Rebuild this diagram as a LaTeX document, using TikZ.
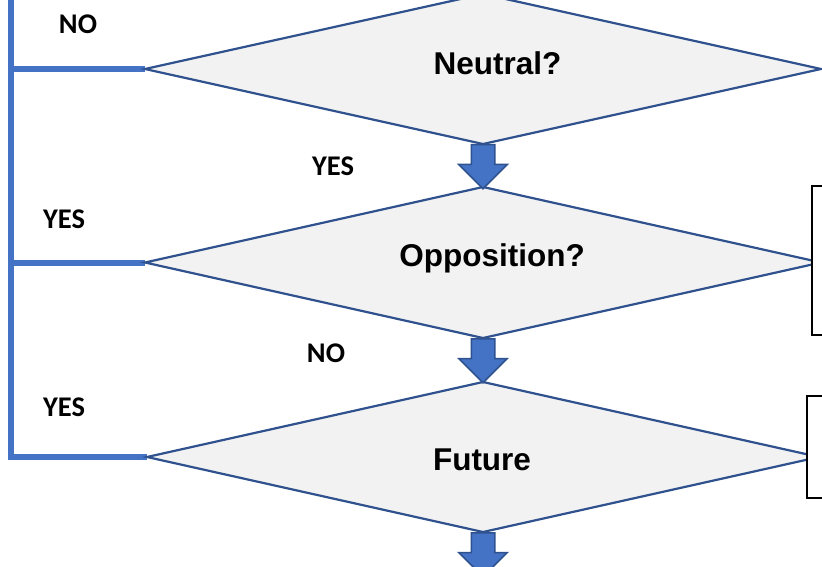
\documentclass[tikz,border=0pt]{standalone}
\usepackage{fontspec}
\setmainfont{Liberation Sans}
\newfontfamily\answerfont{Carlito}
\usetikzlibrary{shapes.geometric, shapes.arrows, backgrounds}
\definecolor{edgeblue}{HTML}{2F528F}
\definecolor{loopblue}{HTML}{4472C4}
\definecolor{shapegray}{HTML}{F2F2F2}

\begin{document}
\begin{tikzpicture}[x=1pt, y=-1pt,
    decision/.style = {diamond, draw=edgeblue, fill=shapegray, line width=2.2pt, inner sep=0pt, outer sep=0pt},
    question/.style = {anchor=base, font=\fontsize{31.5}{36}\selectfont\bfseries},
    answer/.style = {font=\answerfont\fontsize{28.5}{32}\selectfont\bfseries},
    downarrow/.style = {single arrow, draw=edgeblue, fill=loopblue, line width=1.5pt, rotate=-90, inner sep=11pt, single arrow head extend=12.5pt, minimum height=44pt, anchor=tail},
    loopline/.style = {draw=loopblue, line width=6pt},
    sidebox/.style = {rectangle, draw, fill=white, line width=2pt, outer sep=0pt, anchor=north west, minimum width=40pt}]
    \useasboundingbox (0,0) rectangle (822,567);

    \coordinate (looptop) at (11,-5);

    % decisions
    \node[decision, minimum width=676pt, minimum height=150pt] at (483,69) (neutral) {};
    \node[decision, minimum width=676pt, minimum height=151pt] at (483,262.5) (opposition) {};
    \node[decision, minimum width=672pt, minimum height=150pt] at (483,457) (future) {};

    \node[question] at (497.5,75) (qneutral) {Neutral?};
    \node[question] at (492,266) (qopposition) {Opposition?};
    \node[question] at (482,470) (qfuture) {Future};

    % left feedback line
    \begin{scope}[on background layer]
        \path[loopline] (looptop) |- (future.west);
        \path[loopline] (neutral.west -| looptop) -- (neutral.west);
        \path[loopline] (opposition.west -| looptop) -- (opposition.west);
    \end{scope}

    % block arrows
    \node[downarrow] at (neutral.south) (arr1) {};
    \node[downarrow] at (opposition.south) (arr2) {};
    \node[downarrow] at (future.south) (arr3) {};

    % boxes on the right
    \node[sidebox, minimum height=149pt] at (812,186) (box1) {};
    \node[sidebox, minimum height=102pt] at (807,396) (box2) {};

    % answers
    \node[answer] at (78,24) (ans1) {NO};
    \node[answer] at (333,166) (ans2) {YES};
    \node[answer] at (64,219) (ans3) {YES};
    \node[answer] at (326,353) (ans4) {NO};
    \node[answer] at (64,407) (ans5) {YES};
\end{tikzpicture}
\end{document}
